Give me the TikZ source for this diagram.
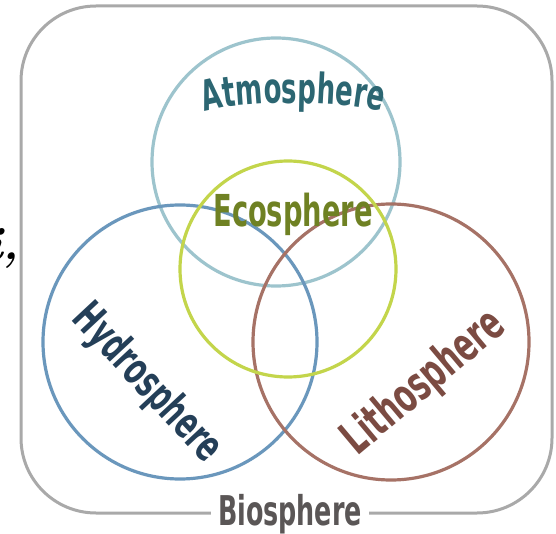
\documentclass[tikz,border=0pt]{standalone}
\usepackage{fontspec}
\usetikzlibrary{decorations.text}
\newfontfamily\agency[FakeStretch=0.62]{DejaVu Sans}
\definecolor{framegray}{HTML}{A9A9A9}
\definecolor{atmoline}{HTML}{9DC4CD}
\definecolor{ecoline}{HTML}{C3D54B}
\definecolor{hydroline}{HTML}{6A97BC}
\definecolor{litholine}{HTML}{A67266}
\definecolor{atmotext}{HTML}{2C6672}
\definecolor{ecotext}{HTML}{6F8123}
\definecolor{hydrotext}{HTML}{243F58}
\definecolor{lithotext}{HTML}{7B4B42}
\definecolor{biotext}{HTML}{5A5656}
\begin{document}
\begin{tikzpicture}[x=1pt,y=1pt,
  sphere/.style={circle, draw, line width=3.2pt, inner sep=0pt},
  flat label/.style={inner sep=0pt, anchor=base, font=\agency\bfseries\fontsize{#1}{#1}\selectfont},
  arc label/.style n args={3}{decorate, decoration={text along path, text align=center,
      text={|\agency\bfseries\fontsize{#1}{#1}\selectfont\color{#2}|#3}}}]
\useasboundingbox (0,-534) rectangle (556,0);
\fill[white] (0,-534) rectangle (556,0);

% tail of a neighbouring text line
\begin{scope}
  \clip (0,-534) rectangle (556,0);
  \node[anchor=base east, inner sep=0pt, font=\fontsize{46}{46}\selectfont\bfseries\itshape] (frag) at (19,-260) {i,};
\end{scope}

% outer frame
\draw[framegray, line width=3pt, rounded corners=75pt] (21,-6) rectangle (552,-513);

% the four spheres
\node[sphere, draw=atmoline, minimum size=248pt] (atmo) at (276,-162) {};
\node[sphere, draw=hydroline, minimum size=274pt] (hydro) at (180,-342) {};
\node[sphere, draw=litholine, minimum size=276pt] (litho) at (391,-342) {};
\node[sphere, draw=ecoline, minimum size=216pt] (eco) at (288,-269) {};

% labels
\node[flat label=41, fill=white, inner xsep=7pt, inner ysep=3pt, text=biotext] (bio) at (290,-525) {Biosphere};
\node[flat label=44, text=ecotext] (ecolabel) at (293,-227) {Ecosphere};
\path[arc label={42}{atmotext}{Atmosphere}] (203,-113) .. controls (233,-100) and (353,-100) .. (384,-113);
\node[flat label=44, text=hydrotext, rotate=-47] (hydrolabel) at (138,-392) {Hydrosphere};
\node[flat label=47, text=lithotext, rotate=40] (litholabel) at (433,-393) {Lithosphere};
\end{tikzpicture}
\end{document}
